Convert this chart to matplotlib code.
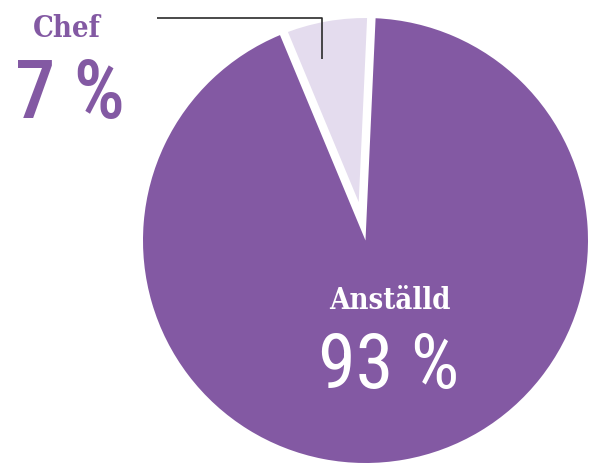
import matplotlib
matplotlib.use('Agg')
import matplotlib.pyplot as plt
from matplotlib import font_manager as fm

labels = ['Chef', 'Anställd']
values = [7, 93]
pct_labels = ['7 %', '93 %']
colors = ['#E4DCEE', '#8359A3']
text_purple = '#8359A3'

available = {f.name for f in fm.fontManager.ttflist}
def pick(cands):
    for c in cands:
        if c in available:
            return c
    return 'DejaVu Sans'

num_font = pick(['Liberation Sans Narrow', 'Roboto Condensed', 'Roboto', 'DejaVu Sans'])
word_font = pick(['DejaVu Serif', 'Liberation Serif'])

W, H = 589, 463
fig = plt.figure(figsize=(W / 100, H / 100), dpi=100)
ax = fig.add_axes([0, 0, 1, 1])
cx, cy, r = 365.5, H - 240.5, 222.5

wedges, _ = ax.pie(values, colors=colors, startangle=87.4, counterclock=True,
                   center=(cx, cy), radius=r, wedgeprops=dict(linewidth=0))
gap_px = 17
wedges[0].set_edgecolor('white')
wedges[0].set_linewidth(gap_px * 72 / 100)
wedges[0].set_radius(r + gap_px / 2)
wedges[0].set_zorder(1)
wedges[1].set_zorder(2)

# leader line
ax.plot([157, 321.5, 321.5], [H - 18, H - 18, H - 59], color='#2b2b2b', lw=1.2,
        solid_capstyle='butt', zorder=3)

ax.text(33, H - 37, labels[0], color=text_purple, fontsize=21, fontweight='bold',
        family=word_font, fontstretch='condensed', ha='left', va='baseline')
ax.text(15, H - 118, pct_labels[0], color=text_purple, fontsize=58, fontweight='medium',
        family=num_font, ha='left', va='baseline')
ax.text(389.5, H - 309, labels[1], color='white', fontsize=21, fontweight='bold',
        family=word_font, fontstretch='condensed', ha='center', va='baseline', zorder=4)
ax.text(389, H - 388, pct_labels[1], color='white', fontsize=55,
        family=num_font, ha='center', va='baseline', zorder=4)

ax.set_xlim(0, W)
ax.set_ylim(0, H)
ax.set_aspect('auto')
ax.axis('off')
fig.savefig('out.png', dpi=100)
